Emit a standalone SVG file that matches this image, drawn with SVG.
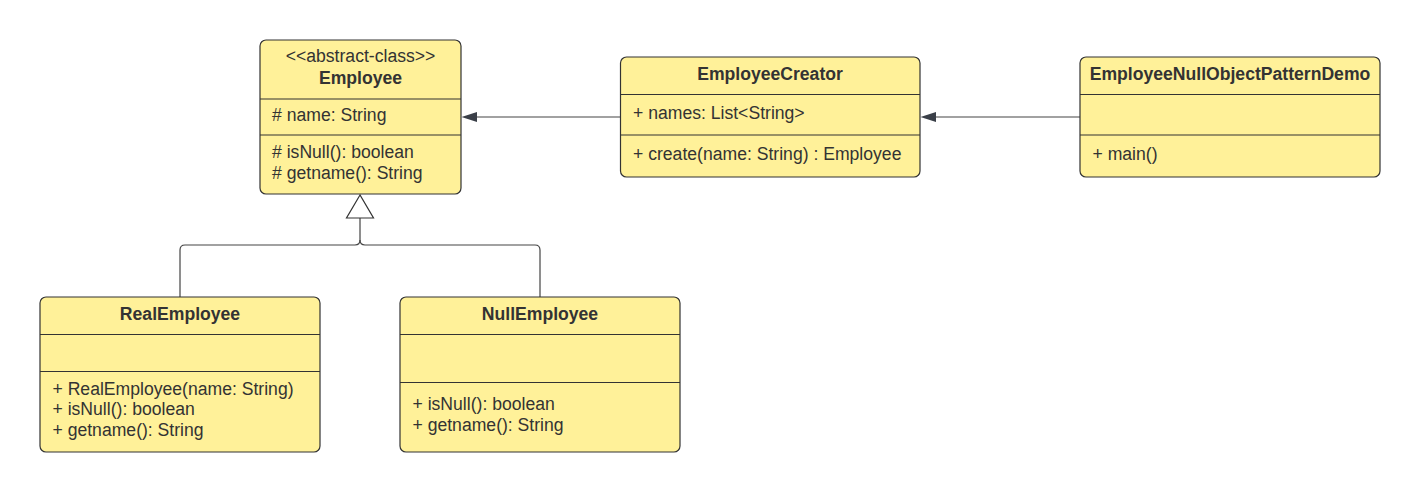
<svg xmlns="http://www.w3.org/2000/svg" width="1420" height="493" viewBox="0 0 1420 493">
<style>
.box{fill:#fff199;stroke:#333333;stroke-width:1.2}
.div{stroke:#333333;stroke-width:1.2}
.t{font-family:"Liberation Sans",Arial,sans-serif;font-size:17.6px;fill:#333333}
.b{font-weight:bold}
.c{text-anchor:middle}
.ln{fill:none;stroke:#444444;stroke-width:1.2}
.ah{fill:#3a3f48;stroke:none}
</style>
<rect width="1420" height="493" fill="#ffffff"/>
<g id="connectors">
<line class="ln" x1="620" y1="117" x2="470" y2="117"/>
<path class="ah" d="M461.5,117 L477,112 L477,122 Z"/>
<line class="ln" x1="1080" y1="117" x2="930" y2="117"/>
<path class="ah" d="M920.5,117 L936,112 L936,122 Z"/>
<path class="ln" d="M180,297 V250 Q180,245 185,245 H355 Q360,245 360,240 V218"/>
<path class="ln" d="M540,297 V250 Q540,245 535,245 H365 Q360,245 360,240"/>
<path d="M360,195 L346.5,218 L373.5,218 Z" fill="#ffffff" stroke="#333333" stroke-width="1.2"/>
</g>
<g id="employee">
<rect class="box" x="260" y="40" width="201" height="154" rx="6"/>
<line class="div" x1="260" y1="99" x2="461" y2="99"/>
<line class="div" x1="260" y1="135" x2="461" y2="135"/>
<text class="t c" x="360.5" y="61.5">&lt;&lt;abstract-class&gt;&gt;</text>
<text class="t b c" x="360.5" y="83.5">Employee</text>
<text class="t" x="272" y="120.5"># name: String</text>
<text class="t" x="272" y="158"># isNull(): boolean</text>
<text class="t" x="272" y="179"># getname(): String</text>
</g>
<g id="employeeCreator">
<rect class="box" x="620.5" y="57" width="299.5" height="120" rx="6"/>
<line class="div" x1="620.5" y1="94.5" x2="920" y2="94.5"/>
<line class="div" x1="620.5" y1="135" x2="920" y2="135"/>
<text class="t b c" x="770" y="79.5">EmployeeCreator</text>
<text class="t" x="633" y="119">+ names: List&lt;String&gt;</text>
<text class="t" x="633" y="159.5">+ create(name: String) : Employee</text>
</g>
<g id="demo">
<rect class="box" x="1080" y="57" width="300" height="120" rx="6"/>
<line class="div" x1="1080" y1="94.5" x2="1380" y2="94.5"/>
<line class="div" x1="1080" y1="135" x2="1380" y2="135"/>
<text class="t b c" x="1230" y="79.5">EmployeeNullObjectPatternDemo</text>
<text class="t" x="1092.5" y="159.5">+ main()</text>
</g>
<g id="realEmployee">
<rect class="box" x="40" y="297" width="280" height="155" rx="6"/>
<line class="div" x1="40" y1="334.5" x2="320" y2="334.5"/>
<line class="div" x1="40" y1="371.5" x2="320" y2="371.5"/>
<text class="t b c" x="180" y="319.5">RealEmployee</text>
<text class="t" x="52.5" y="394.5">+ RealEmployee(name: String)</text>
<text class="t" x="52.5" y="415">+ isNull(): boolean</text>
<text class="t" x="52.5" y="436">+ getname(): String</text>
</g>
<g id="nullEmployee">
<rect class="box" x="400" y="297" width="280" height="155" rx="6"/>
<line class="div" x1="400" y1="334.5" x2="680" y2="334.5"/>
<line class="div" x1="400" y1="382.5" x2="680" y2="382.5"/>
<text class="t b c" x="540" y="319.5">NullEmployee</text>
<text class="t" x="412.5" y="410">+ isNull(): boolean</text>
<text class="t" x="412.5" y="431">+ getname(): String</text>
</g>
</svg>
